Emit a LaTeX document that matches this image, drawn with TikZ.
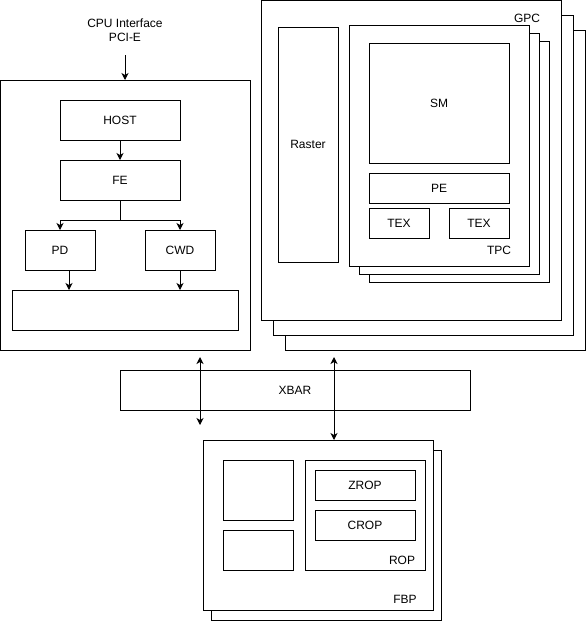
\documentclass[tikz,border=0pt]{standalone}
\usepackage{fontspec}
\setmainfont{Liberation Sans}
\usetikzlibrary{arrows.meta}
\begin{document}
\begin{tikzpicture}[x=1pt,y=-1pt,
  box/.style={draw=black, line width=1pt, fill=white, inner sep=0pt, outer sep=0pt, anchor=north west, font=\fontsize{12}{14}\selectfont},
  lbl/.style={inner sep=0pt, font=\fontsize{12}{14}\selectfont},
  arr/.style={line width=1pt, -{Stealth[length=7pt,width=7pt,inset=2pt]}},
  darr/.style={line width=1pt, {Stealth[length=7pt,width=7pt,inset=2pt]}-{Stealth[length=7pt,width=7pt,inset=2pt]}}]
\useasboundingbox (0,0) rectangle (586,621);
% ---- left (front end) block
\node[lbl, align=center] (cpu) at (125,30) {CPU Interface\\PCI-E};
\coordinate (cpuout) at (125,55);
\node[box, minimum width=250pt, minimum height=270pt] (lbox) at (0,80) {};
\node[box, minimum width=120pt, minimum height=40pt] (host) at (60,100) {HOST};
\node[box, minimum width=120pt, minimum height=40pt] (fe) at (60,160) {FE};
\node[box, minimum width=70pt, minimum height=40pt] (pd) at (25,230) {PD};
\node[box, minimum width=70pt, minimum height=40pt] (cwd) at (145,230) {CWD};
\node[box, minimum width=226pt, minimum height=40pt] (bar) at (12,290) {};
\draw[arr] (cpuout) -- (lbox.north);
\draw[arr] (host) -- (fe);
\draw[arr] (fe.south) -- ++(0,20) -| (pd.north);
\draw[arr] (fe.south) -- ++(0,20) -| (cwd.north);
\draw[arr] ([xshift=9pt]pd.south) -- ([xshift=9pt]pd.south |- bar.north);
\draw[arr] (cwd.south) -- (cwd.south |- bar.north);
% ---- GPC stack
\node[box, minimum width=300pt, minimum height=320pt] (gpc3) at (285,30) {};
\node[box, minimum width=300pt, minimum height=320pt] (gpc2) at (273,15) {};
\node[box, minimum width=300pt, minimum height=320pt] (gpc) at (261,0) {};
\node[lbl] (gpclbl) at (527,18) {GPC};
\node[box, minimum width=60pt, minimum height=235pt] (raster) at (278,27) {Raster};
\node[box, minimum width=180pt, minimum height=241pt] (tpc3) at (369,41) {};
\node[box, minimum width=180pt, minimum height=241pt] (tpc2) at (359,33) {};
\node[box, minimum width=180pt, minimum height=241pt] (tpc) at (349,25) {};
\node[lbl] (tpclbl) at (499,250) {TPC};
\node[box, minimum width=140pt, minimum height=120pt] (sm) at (369,43) {SM};
\node[box, minimum width=140pt, minimum height=30pt] (pe) at (369,173) {PE};
\node[box, minimum width=60pt, minimum height=30pt] (tex1) at (369,208) {TEX};
\node[box, minimum width=60pt, minimum height=30pt] (tex2) at (449,208) {TEX};
% ---- XBAR
\node[box, minimum width=350pt, minimum height=40pt] (xbar) at (120,370) {XBAR};
\coordinate (xa1) at (200,357);
\coordinate (xa2) at (200,425);
\coordinate (xb1) at (334,357);
% ---- FBP stack
\node[box, minimum width=230pt, minimum height=170pt] (fbp2) at (211,450) {};
\node[box, minimum width=230pt, minimum height=170pt] (fbp) at (203,440) {};
\node[lbl] (fbplbl) at (405,599) {FBP};
\node[box, minimum width=70pt, minimum height=60pt] (m1) at (223,460) {};
\node[box, minimum width=70pt, minimum height=40pt] (m2) at (223,530) {};
\node[box, minimum width=120pt, minimum height=110pt] (rop) at (305,460) {};
\node[lbl] (roplbl) at (402,560) {ROP};
\node[box, minimum width=100pt, minimum height=30pt] (zrop) at (315,470) {ZROP};
\node[box, minimum width=100pt, minimum height=30pt] (crop) at (315,510) {CROP};
\draw[darr] (xa1) -- (xa2);
\draw[darr] (xb1) -- (xb1 |- fbp.north);
\end{tikzpicture}
\end{document}
